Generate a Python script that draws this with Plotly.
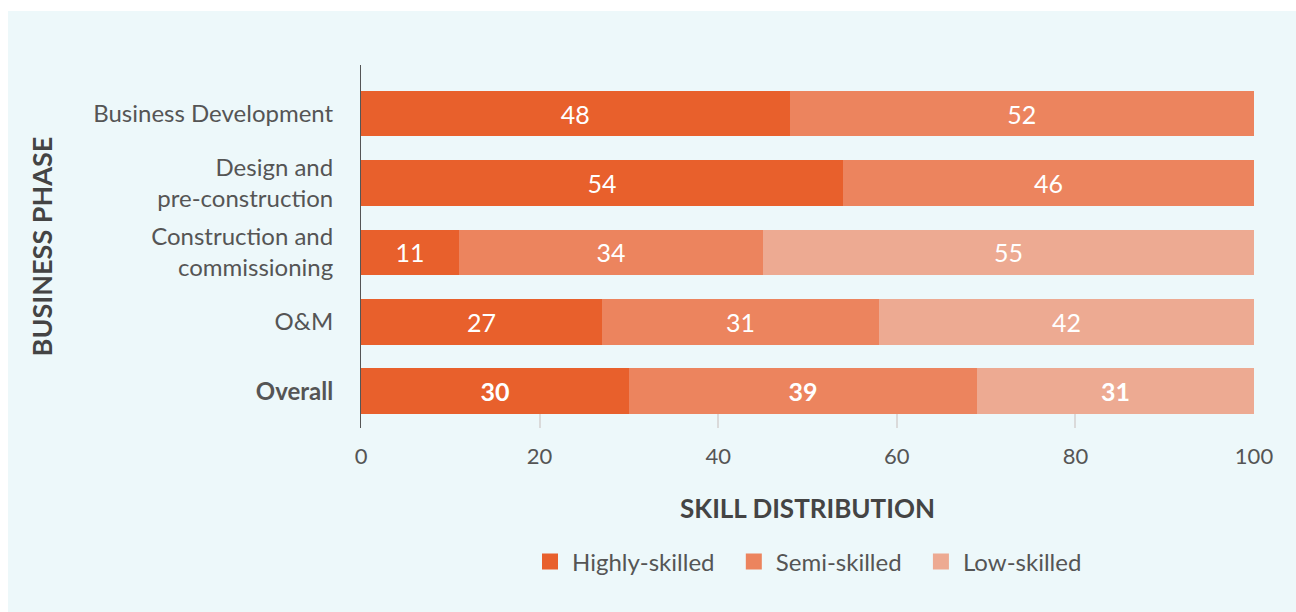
import plotly.graph_objects as go

# Business phases (top to bottom) and skill shares in percent
phases = ["Business Development", "Design and<br>pre-construction",
          "Construction and<br>commissioning", "O&M", "<b>Overall</b>"]
highly_skilled = [48, 54, 11, 27, 30]
semi_skilled = [52, 46, 34, 31, 39]
low_skilled = [0, 0, 55, 42, 31]

series_names = ["Highly-skilled", "Semi-skilled", "Low-skilled"]
series_colors = ["#E8602C", "#EC845E", "#EDAA92"]
x_ticks = [0, 20, 40, 60, 80, 100]

W, H = 1296, 612
M_L, M_R, M_T, M_B = 361, 42, 65, 184
PW, PH = W - M_L - M_R, H - M_T - M_B
PANEL = "#EDF8FA"
FONT = "Lato, 'Open Sans', sans-serif"


def labels(values):
    out = []
    for name, v in zip(phases, values):
        if v == 0:
            out.append("")
        elif "Overall" in name:
            out.append(f"<b>{v}</b>")
        else:
            out.append(str(v))
    return out


fig = go.Figure()
for i, (name, vals, col) in enumerate(zip(series_names, [highly_skilled, semi_skilled, low_skilled], series_colors)):
    fig.add_trace(go.Bar(
        name=name, y=phases, x=vals, orientation="h",
        marker=dict(color=col, line=dict(width=0)),
        text=labels(vals), textposition="inside", insidetextanchor="middle",
        textfont=dict(color="white", size=25, family=FONT),
        constraintext="none",
        hoverinfo="x+name", showlegend=False,
    ))
    # square legend swatch; padded entry name widens the gap to the next entry
    pad = "\u00a0\u00a0" if i < len(series_names) - 1 else ""
    fig.add_trace(go.Scatter(
        name=name + pad, x=[None], y=[None], mode="markers",
        marker=dict(symbol="square", size=17, color=col),
        showlegend=True, hoverinfo="skip",
    ))


def px_x(p):
    return (p - M_L) / PW


def px_y(p):
    return (H - M_B - p) / PH


fig.update_layout(
    width=W, height=H,
    margin=dict(l=M_L, r=M_R, t=M_T, b=M_B),
    barmode="stack", bargap=0.34,
    paper_bgcolor=PANEL, plot_bgcolor=PANEL,
    font=dict(family=FONT, color="#555555", size=20),
    xaxis=dict(
        range=[0, 100], tickvals=x_ticks, showgrid=False, zeroline=False,
        showline=False, ticks="inside", ticklen=14, tickwidth=2, tickcolor="#DADADA",
        tickfont=dict(size=22, color="#555555"), ticklabelstandoff=13,
        title=dict(text="<b>SKILL DISTRIBUTION</b>", standoff=31,
                   font=dict(size=26, color="#444444")),
    ),
    yaxis=dict(
        range=[4.53, -0.7], showgrid=False, zeroline=False,
        showline=True, linecolor="#555555", linewidth=1, ticks="",
        tickfont=dict(size=24, color="#555555"), ticklabelstandoff=22,
        title=dict(text="<b>BUSINESS PHASE</b>", standoff=32,
                   font=dict(size=27, color="#444444")),
    ),
    legend=dict(
        orientation="h", x=0.5, xanchor="center", y=px_y(562), yanchor="middle",
        font=dict(size=24, color="#555555"), bgcolor="rgba(0,0,0,0)",
        itemwidth=34, tracegroupgap=0, traceorder="normal",
    ),
    showlegend=True,
    shapes=[
        dict(type="rect", xref="paper", yref="paper", x0=px_x(0), x1=px_x(W),
             y0=px_y(11), y1=px_y(0), fillcolor="white", line=dict(width=0), layer="below"),
        dict(type="rect", xref="paper", yref="paper", x0=px_x(0), x1=px_x(8),
             y0=px_y(H), y1=px_y(0), fillcolor="white", line=dict(width=0), layer="below"),
    ],
)

fig.write_html("out.html")
